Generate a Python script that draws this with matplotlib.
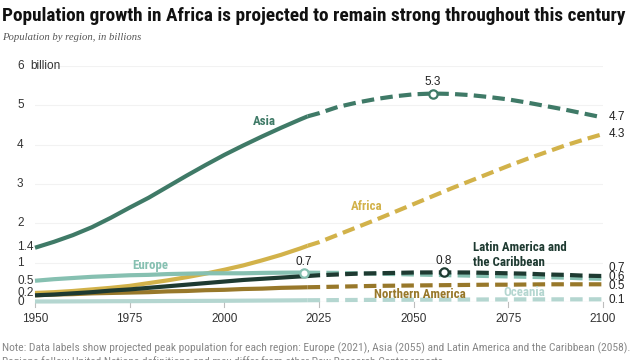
import numpy as np
import matplotlib
matplotlib.use("Agg")
import matplotlib.pyplot as plt
from matplotlib import font_manager as fm
from matplotlib.transforms import blended_transform_factory

# ---------------- data ----------------
years = [1950, 1955, 1960, 1965, 1970, 1975, 1980, 1985, 1990, 1995, 2000, 2005,
         2010, 2015, 2020, 2022, 2025, 2030, 2035, 2040, 2045, 2050, 2055, 2060,
         2065, 2070, 2075, 2080, 2085, 2090, 2095, 2100]

asia = [1.38, 1.53, 1.70, 1.90, 2.14, 2.40, 2.65, 2.93, 3.21, 3.48, 3.74, 3.98,
        4.21, 4.43, 4.64, 4.72, 4.80, 4.96, 5.07, 5.16, 5.23, 5.28, 5.30, 5.29,
        5.26, 5.21, 5.15, 5.07, 4.98, 4.89, 4.79, 4.69]
africa = [0.23, 0.25, 0.28, 0.32, 0.36, 0.41, 0.48, 0.55, 0.63, 0.72, 0.82, 0.93,
          1.06, 1.20, 1.36, 1.43, 1.52, 1.71, 1.90, 2.09, 2.29, 2.49, 2.69, 2.89,
          3.08, 3.27, 3.46, 3.64, 3.81, 3.98, 4.13, 4.27]
europe = [0.54, 0.58, 0.61, 0.64, 0.66, 0.68, 0.69, 0.71, 0.72, 0.73, 0.73, 0.73,
          0.74, 0.745, 0.748, 0.745, 0.743, 0.74, 0.73, 0.72, 0.71, 0.70, 0.69, 0.68,
          0.67, 0.66, 0.65, 0.64, 0.63, 0.62, 0.60, 0.59]
latam = [0.17, 0.19, 0.22, 0.25, 0.29, 0.32, 0.36, 0.40, 0.44, 0.48, 0.52, 0.56,
         0.59, 0.62, 0.65, 0.66, 0.68, 0.70, 0.72, 0.73, 0.74, 0.75, 0.752, 0.752,
         0.75, 0.74, 0.73, 0.72, 0.70, 0.69, 0.67, 0.66]
n_america = [0.17, 0.19, 0.20, 0.22, 0.23, 0.24, 0.25, 0.27, 0.28, 0.30, 0.31, 0.33,
             0.34, 0.36, 0.37, 0.375, 0.38, 0.39, 0.40, 0.41, 0.415, 0.42, 0.425, 0.43,
             0.435, 0.44, 0.44, 0.445, 0.45, 0.45, 0.45, 0.45]
oceania = [0.013, 0.014, 0.016, 0.018, 0.020, 0.021, 0.023, 0.025, 0.027, 0.029, 0.031, 0.034,
           0.037, 0.040, 0.043, 0.045, 0.046, 0.049, 0.052, 0.054, 0.056, 0.058, 0.060, 0.062,
           0.063, 0.065, 0.066, 0.067, 0.067, 0.068, 0.068, 0.069]

last_observed_year = 2022

peak_years = {"Asia": 2055, "Europe": 2021, "Latin America and\nthe Caribbean": 2058}
peak_labels = {"Asia": "5.3", "Europe": "0.7", "Latin America and\nthe Caribbean": "0.8"}

end_labels = ["4.7", "4.3", "0.7", "0.6", "0.5", "0.1"]
y_ticks = [0, 0.2, 0.5, 1, 1.4, 2, 3, 4, 5, 6]
x_ticks = [1950, 1975, 2000, 2025, 2050, 2075, 2100]

title = "Population growth in Africa is projected to remain strong throughout this century"
subtitle = "Population by region, in billions"
note1 = ("Note: Data labels show projected peak population for each region: Europe (2021), "
         "Asia (2055) and Latin America and the Caribbean (2058).")
note2 = "Regions follow United Nations definitions and may differ from other Pew Research Center reports."

# ---------------- fonts ----------------
names = {f.name for f in fm.fontManager.ttflist}
COND = None
for cand in ["Liberation Sans Narrow", "DejaVu Sans Condensed", "Roboto Condensed",
             "Open Sans Condensed", "Noto Sans Condensed"]:
    if cand in names:
        COND = cand
        break
COND_STRETCH = "normal"
if COND is None:
    if any(f.name == "DejaVu Sans" and str(f.stretch) in ("condensed", "semi-condensed")
           for f in fm.fontManager.ttflist):
        COND, COND_STRETCH = "DejaVu Sans", "condensed"
    else:
        COND = "Liberation Sans"

# ---------------- style ----------------
C_ASIA = "#3f7a67"
C_AFRICA = "#d2b24a"
C_EUROPE = "#86c0b1"
C_LATAM = "#1e3a31"
C_NAM = "#98782a"
C_OCE = "#b4d6d0"

series = [
    ("Oceania", oceania, C_OCE),
    ("Northern America", n_america, C_NAM),
    ("Africa", africa, C_AFRICA),
    ("Europe", europe, C_EUROPE),
    ("Latin America and\nthe Caribbean", latam, C_LATAM),
    ("Asia", asia, C_ASIA),
]

W, H = 640, 360
fig = plt.figure(figsize=(6.4, 3.6), dpi=100)
ax = fig.add_axes([35 / W, (H - 302) / H, 568 / W, 236 / H])
ax.set_xlim(1950, 2100)
ax.set_ylim(0, 6)
for s in ax.spines.values():
    s.set_visible(False)
ax.set_yticks([])
ax.set_xticks([])

for g in [1, 2, 3, 4, 5, 6]:
    ax.axhline(g, color="#f2f2f2", lw=0.8, zorder=0)

ax.axhline(0, color="#bdbdbd", lw=0.8, zorder=1)
for xt in x_ticks:
    ax.plot([xt, xt], [0, -0.12], color="#bdbdbd", lw=0.8, clip_on=False, zorder=1)
    ax.text(xt, -0.42, str(xt), ha="center", va="center", fontsize=8.5,
            family="Liberation Sans", color="#333333")

ytr = blended_transform_factory(ax.transAxes, ax.transData)
y_label_pos = {0: 0.0, 0.2: 0.23, 0.5: 0.53, 1: 0.99, 1.4: 1.39}
for yt in y_ticks:
    ypos = y_label_pos.get(yt, yt)
    ax.text(-18 / 568, ypos, f"{yt:g}", ha="left", va="center", fontsize=8.5,
            family="Liberation Sans", color="#333333", transform=ytr)
ax.text(-5 / 568, 6, "billion", ha="left", va="center", fontsize=8.5,
        family="Liberation Sans", color="#333333", transform=ytr)

yrs = np.array(years, dtype=float)
solid = yrs <= last_observed_year
dash = yrs >= last_observed_year
for name, vals, col in series:
    v = np.array(vals)
    ax.plot(yrs[solid], v[solid], color=col, lw=3.0, solid_capstyle="butt",
            clip_on=False, zorder=3)
    ax.plot(yrs[dash], v[dash], color=col, lw=3.0, dashes=(3.0, 1.5),
            dash_capstyle="butt", clip_on=False, zorder=3)
    if name in peak_years:
        py = peak_years[name]
        pv = np.interp(py, yrs, v)
        ax.plot(py, pv, marker="o", ms=6, mfc="white", mec=col, mew=1.6, zorder=5)
        ax.text(py, pv + 0.13, peak_labels[name], ha="center", va="bottom",
                fontsize=8.5, family="Liberation Sans", color="#222222")

end_pos = [4.70, 4.27, 0.86, 0.63, 0.41, 0.05]
for lab, yp in zip(end_labels, end_pos):
    ax.text(2101.5, yp, lab, ha="left", va="center", fontsize=8.5,
            family="Liberation Sans", color="#222222")

lab_font = dict(fontsize=9, family=COND, stretch=COND_STRETCH, fontweight="bold")
ax.text(2010.5, 4.6, "Asia", ha="center", va="center", color=C_ASIA, **lab_font)
ax.text(2037.5, 2.44, "Africa", ha="center", va="center", color=C_AFRICA, **lab_font)
ax.text(1980.4, 0.92, "Europe", ha="center", va="center", color=C_EUROPE, **lab_font)
ax.text(2065.7, 1.2, "Latin America and\nthe Caribbean", ha="left", va="center",
        color=C_LATAM, linespacing=1.15, **lab_font)
t_nam = ax.text(2051.7, 0.20, "Northern America", ha="center", va="center", color=C_NAM, **lab_font)
ax.text(2079.2, 0.25, "Oceania", ha="center", va="center", color=C_OCE, **lab_font)

t_title = fig.text(2 / W, 1 - 16 / H, title, ha="left", va="center", fontsize=14,
                   fontweight="bold", family=COND, stretch=COND_STRETCH, color="#111111")
t_sub = fig.text(2 / W, 1 - 37 / H, subtitle, ha="left", va="center",
                 fontsize=9, style="italic", family="Liberation Serif", color="#555555")
t_n1 = fig.text(2 / W, 1 - 348 / H, note1, ha="left", va="center", fontsize=8,
                family=COND, stretch=COND_STRETCH, color="#888888")
t_n2 = fig.text(2 / W, 1 - 362 / H, note2, ha="left", va="center", fontsize=8,
                family=COND, stretch=COND_STRETCH, color="#888888")


def fit(t, target_px, max_size=None):
    fig.canvas.draw()
    r = fig.canvas.get_renderer()
    w = t.get_window_extent(r).width
    size = t.get_fontsize() * target_px / w
    if max_size is not None:
        size = min(size, max_size)
    t.set_fontsize(size)
    return size


fit(t_title, 625)
fit(t_sub, 139)
s = fit(t_n1, 629)
t_n2.set_fontsize(s)
# series labels sized to the reference's "Northern America" width
s_lab = fit(t_nam, 92, max_size=9.5)
for t in ax.texts:
    if t.get_fontweight() == "bold":
        t.set_fontsize(s_lab)

fig.savefig("out.png", dpi=100)
